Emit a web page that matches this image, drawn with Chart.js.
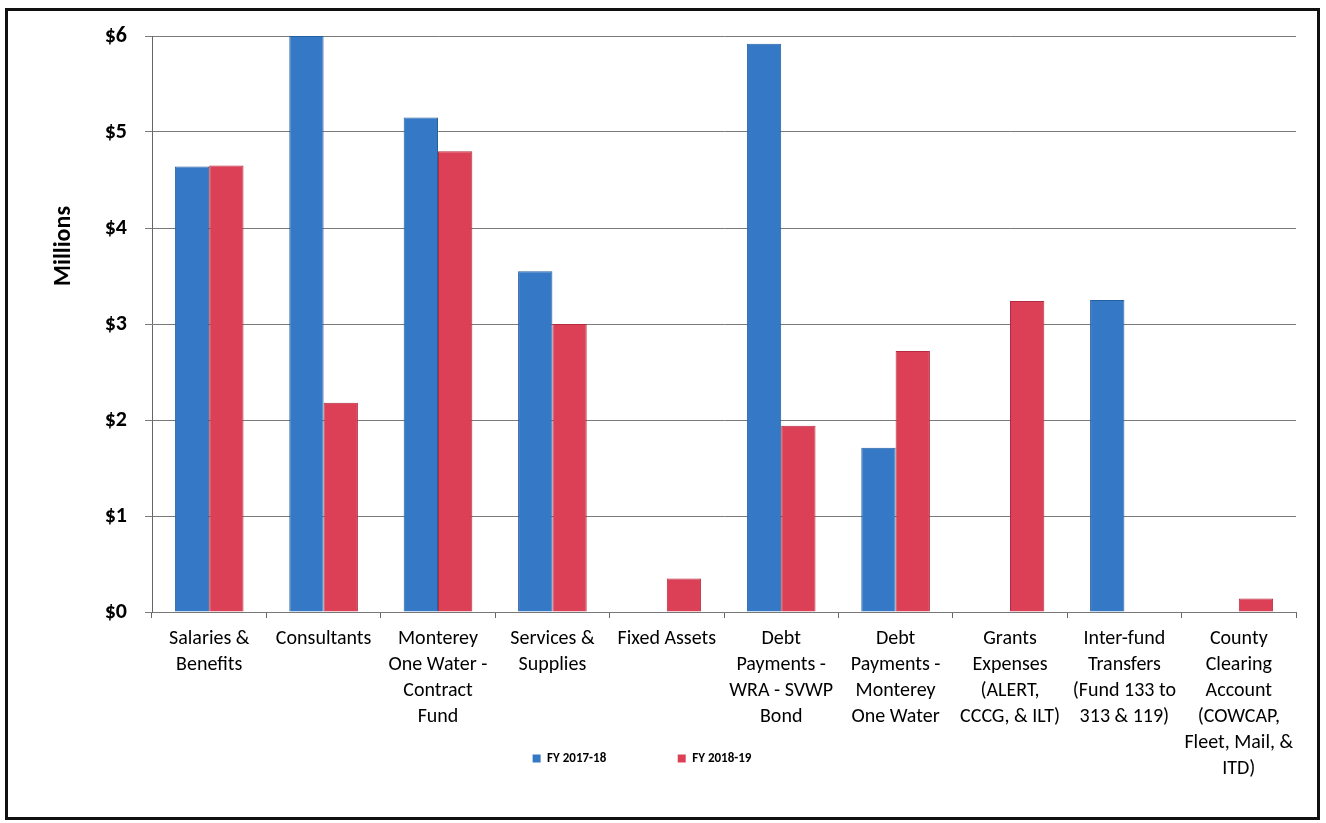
<!DOCTYPE html>
<html>
<head>
<meta charset="utf-8">
<script src="https://cdn.jsdelivr.net/npm/chart.js@4.4.1/dist/chart.umd.min.js"></script>
<style>
  html, body { margin: 0; padding: 0; background: #fff; }
  #wrap { position: relative; width: 1326px; height: 823px; }
  #frame { position: absolute; left: 5px; top: 8px; width: 1309px; height: 806px; border: 3px solid #111; pointer-events: none; }
  canvas { position: absolute; left: 0; top: 0; }
</style>
</head>
<body>
<div id="wrap">
  <canvas id="budgetChart" width="1326" height="823"></canvas>
  <div id="frame"></div>
</div>
<script>
// categories (multi-line labels as arrays)
const categories = [
    ['Salaries &', 'Benefits'],
    ['Consultants'],
    ['Monterey', 'One Water -', 'Contract', 'Fund'],
    ['Services &', 'Supplies'],
    ['Fixed Assets'],
    ['Debt', 'Payments -', 'WRA - SVWP', 'Bond'],
    ['Debt', 'Payments -', 'Monterey', 'One Water'],
    ['Grants', 'Expenses', '(ALERT,', 'CCCG, & ILT)'],
    ['Inter-fund', 'Transfers', '(Fund 133 to', '313 & 119)'],
    ['County', 'Clearing', 'Account', '(COWCAP,', 'Fleet, Mail, &', 'ITD)']
];

// values in millions of dollars
const fy2017 = [4.64, 6.0, 5.15, 3.55, 0, 5.92, 1.71, 0, 3.25, 0];
const fy2018 = [4.65, 2.18, 4.80, 3.00, 0.35, 1.94, 2.72, 3.24, 0, 0.14];

const yTicks = [0, 1, 2, 3, 4, 5, 6];

const FONT = 'Carlito, Lato, sans-serif';

// legend sits over the bottom of the label area, like the original
const legendOverlap = {
    id: 'legendOverlap',
    beforeDraw(chart) {
        const lg = chart.legend;
        if (!lg) return;
        const h = lg.height;
        lg.top = 742;
        lg.bottom = 742 + h;
        lg.left = -6;
        lg.right = 1290;
    }
};

const ctx = document.getElementById('budgetChart').getContext('2d');

new Chart(ctx, {
    type: 'bar',
    data: {
        labels: categories,
        datasets: [
            {
                label: 'FY 2017-18',
                data: fy2017,
                backgroundColor: '#3478c6',
                borderColor: '#25609f',
                borderWidth: 1
            },
            {
                label: 'FY 2018-19',
                data: fy2018,
                backgroundColor: '#dc4057',
                borderColor: '#b32c40',
                borderWidth: 1
            }
        ]
    },
    options: {
        responsive: false,
        animation: false,
        layout: {
            padding: { top: 36, right: 30, bottom: 2, left: 0 }
        },
        datasets: {
            bar: { categoryPercentage: 0.6, barPercentage: 1.0 }
        },
        scales: {
            x: {
                grid: {
                    display: true,
                    drawOnChartArea: false,
                    drawTicks: true,
                    tickLength: 6,
                    color: '#666'
                },
                border: { display: true, color: '#777', width: 1 },
                ticks: {
                    color: '#000',
                    font: { family: FONT, size: 20, lineHeight: 1.3 },
                    maxRotation: 0,
                    autoSkip: false,
                    padding: 8
                },
                afterFit: scale => { scale.height = 176; }
            },
            y: {
                min: 0,
                max: 6,
                afterBuildTicks: scale => {
                    scale.ticks = yTicks.map(v => ({ value: v }));
                },
                grid: {
                    color: '#7a7a7a',
                    lineWidth: 1,
                    tickLength: 7
                },
                border: { display: true, color: '#666', width: 1 },
                ticks: {
                    color: '#000',
                    font: { family: FONT, size: 22, weight: 'bold' },
                    padding: 18,
                    callback: value => '$' + value
                },
                title: {
                    display: true,
                    text: '\u2002'.repeat(13) + 'Millions',
                    color: '#000',
                    font: { family: FONT, size: 24, weight: 'bold' },
                    padding: { top: 50, bottom: 0 }
                },
                afterFit: scale => { scale.width = 152; }
            }
        },
        plugins: {
            legend: {
                position: 'bottom',
                labels: {
                    boxWidth: 8,
                    boxHeight: 8,
                    padding: 10,
                    color: '#000',
                    font: { family: FONT, size: 13, weight: 'bold' },
                    generateLabels: chart => {
                        const items = Chart.defaults.plugins.legend.labels.generateLabels(chart);
                        items.forEach(it => { it.lineWidth = 0; });
                        items[0].text = items[0].text + '\u2002'.repeat(9) + ' ';
                        return items;
                    }
                }
            },
            tooltip: { enabled: false }
        }
    },
    plugins: [legendOverlap]
});
</script>
</body>
</html>
